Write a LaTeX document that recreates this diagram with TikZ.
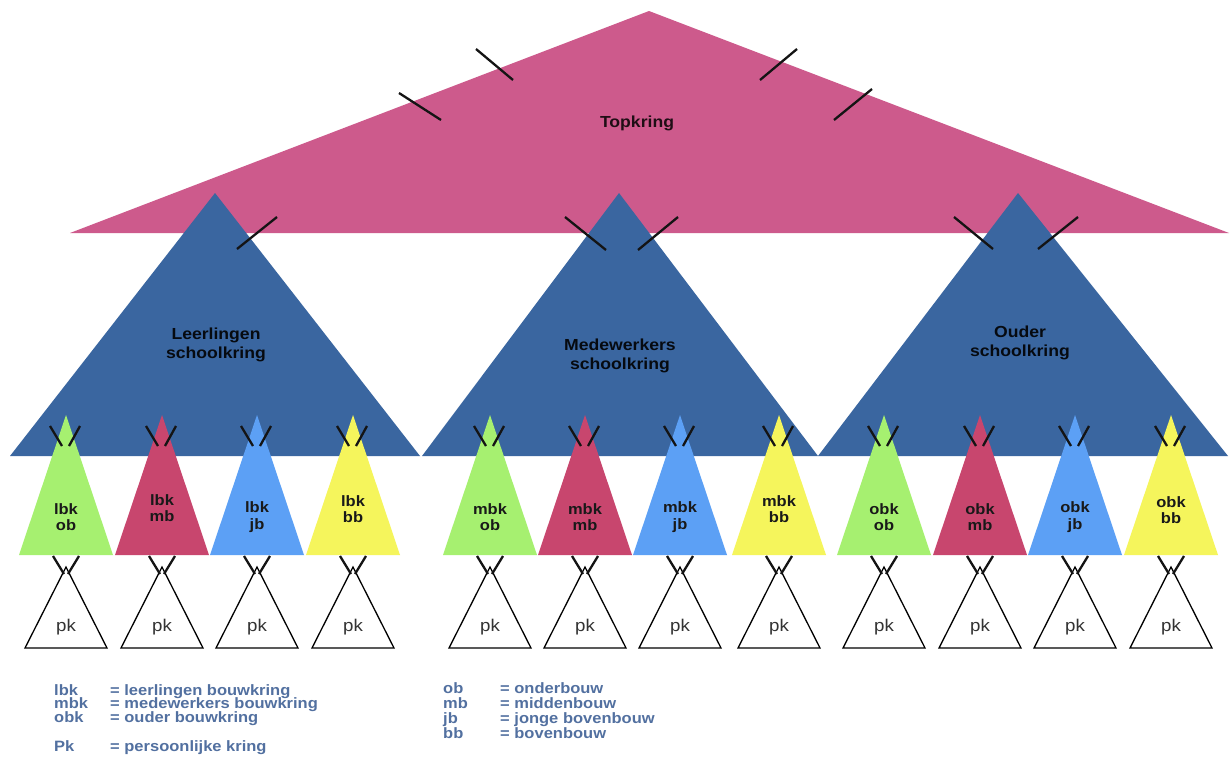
\documentclass[tikz,border=0pt]{standalone}
\usepackage{fontspec}
\setmainfont{Liberation Sans}[FakeStretch=1.1]
\definecolor{topc}{RGB}{205,90,140}
\definecolor{schoolc}{RGB}{58,102,160}
\definecolor{kgreen}{RGB}{166,240,112}
\definecolor{kred}{RGB}{200,70,110}
\definecolor{kblue}{RGB}{92,160,245}
\definecolor{kyellow}{RGB}{245,245,92}
\definecolor{legc}{RGB}{82,112,160}
\begin{document}
\begin{tikzpicture}[x=1pt,y=-1pt,
  tick/.style={line width=2.3pt,black!92},
  pkline/.style={line width=1.3pt,black},
  toplab/.style={font=\bfseries\fontsize{16}{18}\selectfont,text=black!85!topc},
  schoollab/.style={font=\bfseries\fontsize{16}{18.5}\selectfont,align=center,text=black!90!schoolc},
  kringlab/.style={font=\bfseries\fontsize{15}{16.7}\selectfont,align=center,text=black!90},
  pklab/.style={font=\fontsize{17}{19}\selectfont,text=black!80},
  leg/.style={font=\bfseries\fontsize{15}{16}\selectfont,text=legc,anchor=base west,inner sep=0pt}]
\useasboundingbox (0,0) rectangle (1230,763);
\fill[white] (0,0) rectangle (1230,763);
% top circle
\fill[topc] (70,233) -- (649,11) -- (1229,233) -- cycle;
\node[toplab] (top) at (637,123) {Topkring};
% school circles
\fill[schoolc] (10,456) -- (215,193) -- (420,456) -- cycle;
\fill[schoolc] (422,456) -- (619,193) -- (818,456) -- cycle;
\fill[schoolc] (818,456) -- (1018,193) -- (1228,456) -- cycle;
\node[schoollab] (leer) at (216,345) {Leerlingen\\schoolkring};
\node[schoollab] (mede) at (620,356) {Medewerkers\\schoolkring};
\node[schoollab] (ouder) at (1020,343) {Ouder\\schoolkring};
% ticks top
\draw[tick] (399,93) -- (441,120);
\draw[tick] (476,49) -- (513,80);
\draw[tick] (760,80) -- (797,49);
\draw[tick] (834,120) -- (872,89);
% ticks school
\draw[tick] (237,249) -- (277,217);
\draw[tick] (565,217) -- (606,250);
\draw[tick] (638,250) -- (678,217);
\draw[tick] (954,217) -- (993,249);
\draw[tick] (1038,249) -- (1078,217);
% bouwkringen and persoonlijke kringen
\foreach \cx/\col/\a/\b/\ly in {
  66/kgreen/lbk/ob/517, 162/kred/lbk/mb/508, 257/kblue/lbk/jb/517, 353/kyellow/lbk/bb/509,
  490/kgreen/mbk/ob/517, 585/kred/mbk/mb/517, 680/kblue/mbk/jb/517, 779/kyellow/mbk/bb/509,
  884/kgreen/obk/ob/517, 980/kred/obk/mb/517, 1075/kblue/obk/jb/517, 1171/kyellow/obk/bb/510}{
  \fill[\col] (\cx-47,555) -- (\cx,415) -- (\cx+47,555) -- cycle;
  \node[kringlab] (k-\a-\b) at (\cx,\ly) {\a\\\b};
  \draw[pkline,line join=miter] (\cx-41,648) -- (\cx,567) -- (\cx+41,648) -- cycle;
  \node[pklab] (pk-\a-\b) at (\cx,627) {pk};
  \draw[tick] (\cx-16,426) -- (\cx-4,446);
  \draw[tick] (\cx+14,426) -- (\cx+3,446);
  \draw[tick] (\cx-13,556) -- (\cx-2,574);
  \draw[tick] (\cx+13,556) -- (\cx+2,574);
}
% legend
\node[leg] (l1a) at (54,695) {lbk};
\node[leg] (l1b) at (110,695) {= leerlingen bouwkring};
\node[leg] (l2a) at (54,708.5) {mbk};
\node[leg] (l2b) at (110,708.5) {= medewerkers bouwkring};
\node[leg] (l3a) at (54,722) {obk};
\node[leg] (l3b) at (110,722) {= ouder bouwkring};
\node[leg] (l4a) at (54,751) {Pk};
\node[leg] (l4b) at (110,751) {= persoonlijke kring};
\node[leg] (r1a) at (443,693) {ob};
\node[leg] (r1b) at (500,693) {= onderbouw};
\node[leg] (r2a) at (443,708) {mb};
\node[leg] (r2b) at (500,708) {= middenbouw};
\node[leg] (r3a) at (443,723) {jb};
\node[leg] (r3b) at (500,723) {= jonge bovenbouw};
\node[leg] (r4a) at (443,738) {bb};
\node[leg] (r4b) at (500,738) {= bovenbouw};
\end{tikzpicture}
\end{document}
